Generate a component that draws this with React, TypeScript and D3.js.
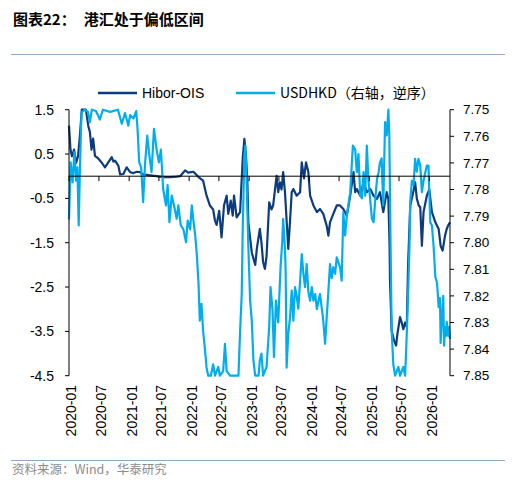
import React from "react";
import * as d3 from "d3";

// Hibor-OIS spread (left axis)
const hiborDates = [
  "2020-01-01","2020-01-10","2020-01-19","2020-02-01","2020-02-13","2020-02-25","2020-03-07","2020-03-19",
  "2020-04-13","2020-04-27","2020-05-07","2020-05-17","2020-05-27","2020-06-07","2020-06-27","2020-07-17",
  "2020-08-07","2020-08-27","2020-09-17","2020-09-27","2020-10-07","2020-10-27","2020-11-07","2020-11-27",
  "2020-12-17","2021-01-07","2021-01-27","2021-02-17","2021-03-07","2021-03-27","2021-05-07","2021-06-17",
  "2021-07-27","2021-09-07","2021-10-17","2021-11-07","2021-12-07","2021-12-27","2022-01-27","2022-02-27",
  "2022-03-27","2022-04-17","2022-05-07","2022-05-27","2022-06-07","2022-06-17","2022-07-03","2022-07-17",
  "2022-08-01","2022-08-17","2022-08-27","2022-09-11","2022-09-23","2022-10-01","2022-10-17","2022-11-07",
  "2022-11-23","2022-12-03","2022-12-13","2022-12-21","2022-12-27","2023-01-17","2023-02-07","2023-02-17",
  "2023-03-07","2023-03-17","2023-03-27","2023-04-07","2023-04-17","2023-05-03","2023-05-17","2023-05-27",
  "2023-06-17","2023-06-27","2023-07-07","2023-07-17","2023-07-27","2023-08-07","2023-08-17","2023-08-27",
  "2023-09-07","2023-09-17","2023-09-27","2023-10-17","2023-11-07","2023-11-17","2023-12-01","2023-12-13",
  "2023-12-27","2024-01-07","2024-01-27","2024-02-17","2024-03-07","2024-03-27","2024-04-17","2024-04-27",
  "2024-05-07","2024-05-27","2024-06-17","2024-07-07","2024-07-27","2024-08-17","2024-09-07","2024-09-27",
  "2024-10-07","2024-10-17","2024-11-07","2024-11-27","2024-12-17","2025-01-07","2025-01-27","2025-02-17",
  "2025-03-07","2025-03-27","2025-04-17","2025-04-27","2025-05-04","2025-05-07","2025-05-17","2025-06-01",
  "2025-06-13","2025-06-21","2025-07-07","2025-07-17","2025-07-27","2025-08-07","2025-08-17","2025-08-25",
  "2025-09-07","2025-09-23","2025-10-07","2025-10-17","2025-10-29","2025-11-07","2025-11-17","2025-11-27",
  "2025-12-17","2026-01-01","2026-01-17","2026-02-07","2026-02-27","2026-03-11","2026-03-23","2026-04-07",
  "2026-04-17","2026-04-27","2026-05-07",
];
const hiborValues = [
  1.14, 0.6, 0.45, 0.6, 0.3, 0.45, 0.9, 1.5,
  1.5, 1.14, 1.0, 0.6, 0.85, 0.46, 0.4, 0.31,
  0.2, 0.31, 0.43, 0.33, 0.35, 0.24, 0.04, 0.05,
  0.2, 0.09, 0.07, 0.1, 0.09, 0.04, 0.02, 0.0,
  -0.02, -0.02, -0.01, 0.0, 0.13, 0.08, 0.1, -0.02,
  -0.1, -0.44, -0.66, -0.75, -1.0, -1.1, -0.78, -1.38,
  -0.66, -0.44, -0.85, -0.55, -0.89, -0.44, -0.93, -0.81,
  0.4, 0.84, 0.45, -0.1, -1.04, -1.72, -2.0, -1.63,
  -1.19, -1.5, -1.94, -2.09, -1.8, -0.59, -0.75, -0.66,
  0.01, -0.36, -0.14, -0.3, 0.09, -0.36, -1.0, -1.64,
  -1.0, -0.36, -0.29, -0.44, -0.36, 0.31, -0.05, 0.31,
  0.1, -0.44, -0.66, -0.81, -0.74, -0.85, -1.12, -1.34,
  -1.04, -0.85, -0.66, -0.66, -0.74, -0.89, -0.44, 0.09,
  -0.36, -0.29, -0.44, -0.14, -0.36, -0.29, -0.44, -0.51,
  -0.36, -0.81, -0.36, -0.51, -1.5, -2.36, -3.49, -3.71,
  -3.82, -3.56, -3.18, -3.3, -3.45, -3.3, -3.4, -2.0,
  -0.66, -0.4, -0.14, -0.5, -0.66, -0.7, -1.57, -0.81,
  -0.44, -0.3, -0.81, -1.04, -1.19, -1.57, -1.68, -1.34,
  -1.19, -1.1, -1.04,
];

// USDHKD spot (right axis, reversed)
const hkdDates = [
  "2020-01-01","2020-01-11","2020-01-23","2020-02-03","2020-02-13","2020-02-21","2020-02-29","2020-03-07",
  "2020-03-17","2020-04-07","2020-04-25","2020-05-07","2020-05-19","2020-06-13","2020-07-07","2020-07-25",
  "2020-09-07","2020-10-25","2020-11-17","2020-12-07","2020-12-27","2021-01-07","2021-01-27","2021-02-13",
  "2021-02-21","2021-03-03","2021-03-15","2021-03-27","2021-04-07","2021-04-21","2021-05-03","2021-05-17",
  "2021-06-01","2021-06-17","2021-07-01","2021-07-13","2021-07-27","2021-08-13","2021-08-23","2021-09-03",
  "2021-09-17","2021-10-01","2021-10-17","2021-10-27","2021-11-11","2021-11-27","2021-12-13","2021-12-23",
  "2022-01-07","2022-01-17","2022-01-27","2022-02-07","2022-02-17","2022-02-27","2022-03-07","2022-03-17",
  "2022-03-27","2022-04-07","2022-04-17","2022-04-27","2022-05-13","2022-05-27","2022-06-07","2022-06-27",
  "2022-07-07","2022-07-27","2022-08-07","2022-08-17","2022-09-07","2022-10-28","2022-11-07","2022-11-17",
  "2022-11-23","2022-12-03","2022-12-09","2022-12-17","2022-12-27","2023-01-07","2023-01-17","2023-01-27",
  "2023-02-07","2023-02-27","2023-03-07","2023-03-17","2023-03-27","2023-04-17","2023-05-03","2023-05-11",
  "2023-05-23","2023-06-01","2023-06-13","2023-06-27","2023-07-11","2023-07-21","2023-07-27","2023-08-07",
  "2023-08-11","2023-08-17","2023-08-27","2023-09-07","2023-09-17","2023-09-27","2023-10-07","2023-10-17",
  "2023-10-27","2023-11-07","2023-11-17","2023-11-27","2023-12-07","2023-12-17","2023-12-27","2024-01-07",
  "2024-01-17","2024-01-27","2024-02-07","2024-02-17","2024-02-27","2024-03-07","2024-03-17","2024-03-27",
  "2024-04-07","2024-04-17","2024-04-27","2024-05-07","2024-05-17","2024-05-27","2024-06-07","2024-06-17",
  "2024-07-07","2024-07-17","2024-07-27","2024-08-07","2024-08-17","2024-09-07","2024-09-23","2024-10-07",
  "2024-10-17","2024-10-27","2024-11-07","2024-11-17","2024-11-27","2024-12-07","2024-12-17","2024-12-27",
  "2025-01-17","2025-01-27","2025-02-07","2025-02-17","2025-02-27","2025-03-07","2025-03-17","2025-03-27",
  "2025-04-07","2025-04-17","2025-04-27","2025-05-03","2025-05-07","2025-05-17","2025-05-27","2025-06-07",
  "2025-06-27","2025-07-07","2025-07-27","2025-08-07","2025-08-17","2025-08-27","2025-09-03","2025-09-07",
  "2025-09-17","2025-09-27","2025-10-07","2025-10-17","2025-10-27","2025-11-07","2025-11-17","2025-11-27",
  "2025-12-17","2025-12-27","2026-01-07","2026-01-17","2026-01-27","2026-02-07","2026-02-17","2026-02-27",
  "2026-03-07","2026-03-11","2026-03-19","2026-03-27","2026-04-01","2026-04-07","2026-04-13","2026-04-17",
  "2026-04-27","2026-05-01","2026-05-07",
];
const hkdValues = [
  7.7913, 7.7698, 7.7773, 7.7658, 7.7767, 7.7717, 7.7935, 7.7735,
  7.7510, 7.7500, 7.7508, 7.7547, 7.7500, 7.7505, 7.7537, 7.7500,
  7.7508, 7.7500, 7.7553, 7.7513, 7.7560, 7.7520, 7.7533, 7.7505,
  7.7572, 7.7698, 7.7717, 7.7848, 7.7710, 7.7597, 7.7667, 7.7735,
  7.7572, 7.7650, 7.7698, 7.7650, 7.7798, 7.7860, 7.7783, 7.7923,
  7.7823, 7.7860, 7.7910, 7.7860, 7.7935, 7.7950, 7.7998, 7.7917,
  7.7950, 7.7860, 7.7917, 7.7973, 7.8048, 7.8155, 7.8293, 7.8230,
  7.8332, 7.8400, 7.8470, 7.8500, 7.8500, 7.8457, 7.8500, 7.8467,
  7.8500, 7.8483, 7.8380, 7.8483, 7.8500, 7.8500, 7.8332, 7.8192,
  7.7947, 7.7673, 7.7635, 7.7783, 7.8012, 7.8217, 7.8293, 7.8442,
  7.8500, 7.8500, 7.8442, 7.8417, 7.8500, 7.8467, 7.8317, 7.8167,
  7.8250, 7.8430, 7.8218, 7.8300, 7.8092, 7.8000, 7.7910, 7.8023,
  7.8105, 7.8470, 7.8343, 7.8280, 7.8180, 7.8293, 7.8167, 7.8200,
  7.8248, 7.8143, 7.8043, 7.8117, 7.8167, 7.8080, 7.8183, 7.8218,
  7.8167, 7.8218, 7.8193, 7.8250, 7.8218, 7.8193, 7.8242, 7.8293,
  7.8380, 7.8280, 7.8183, 7.8080, 7.8133, 7.8092, 7.8117, 7.8055,
  7.8092, 7.8143, 7.7885, 7.7973, 7.7900, 7.7810, 7.7635, 7.7650,
  7.7735, 7.7667, 7.7823, 7.7833, 7.7735, 7.7823, 7.7635, 7.7767,
  7.7910, 7.7923, 7.7833, 7.7760, 7.7735, 7.7698, 7.7683, 7.7860,
  7.7547, 7.7597, 7.7500, 7.7600, 7.7833, 7.8332, 7.8457, 7.8500,
  7.8467, 7.8500, 7.8467, 7.8500, 7.8343, 7.8155, 7.8000, 7.7848,
  7.7767, 7.7783, 7.7685, 7.7733, 7.7685, 7.7710, 7.7810, 7.7767,
  7.7710, 7.7710, 7.7923, 7.7935, 7.8012, 7.8130, 7.8150, 7.8242,
  7.8208, 7.8377, 7.8283, 7.8200, 7.8387, 7.8317, 7.8350, 7.8298,
  7.8350, 7.8317, 7.8362,
];

const leftTicks = [1.5, 0.5, -0.5, -1.5, -2.5, -3.5, -4.5];
const rightTicks = [7.75, 7.76, 7.77, 7.78, 7.79, 7.8, 7.81, 7.82, 7.83, 7.84, 7.85];
const xTickLabels = [
  "2020-01","2020-07","2021-01","2021-07","2022-01","2022-07","2023-01",
  "2023-07","2024-01","2024-07","2025-01","2025-07","2026-01",
];

const seriesNames = ["Hibor-OIS", "USDHKD（右轴，逆序）"];
const titleText = ["图表22：", "港汇处于偏低区间"];
const sourceText = "资料来源：Wind，华泰研究";

const DARK = "#0c3c7e";
const LIGHT = "#00aeef";
const RULE = "#8eaac2";
const LATIN = "'Liberation Sans', Arial, sans-serif";
const CJK = "'Noto Sans CJK SC', 'Liberation Sans', sans-serif";

export default function App() {
  const W = 525;
  const H = 498;
  const plot = { left: 69, right: 450, top: 109.7, bottom: 375.7 };

  const parse = d3.timeParse("%Y-%m-%d");
  const x = d3
    .scaleTime()
    .domain([parse("2020-01-01")!, parse("2026-05-07")!])
    .range([plot.left, plot.right]);
  const yL = d3.scaleLinear().domain([-4.5, 1.5]).range([plot.bottom, plot.top]);
  const yR = d3.scaleLinear().domain([7.75, 7.85]).range([plot.top, plot.bottom]);

  const hibor = hiborDates.map((d, i) => ({ d: parse(d)!, v: hiborValues[i] }));
  const hkd = hkdDates.map((d, i) => ({ d: parse(d)!, v: hkdValues[i] }));

  const lineL = d3
    .line<{ d: Date; v: number }>()
    .x((p) => x(p.d))
    .y((p) => yL(p.v));
  const lineR = d3
    .line<{ d: Date; v: number }>()
    .x((p) => x(p.d))
    .y((p) => yR(p.v));

  const xTicks = xTickLabels.map((s) => ({ s, d: parse(s + "-01")! }));
  const zeroY = yL(0);

  return (
    <svg
      width={W}
      height={H}
      style={{ position: "absolute", left: 0, top: 0, background: "#fff" }}
    >
      {/* title */}
      <text x={13} y={25} fontFamily={CJK} fontWeight="bold" fontSize={15} fill="#000">
        <tspan>{titleText[0]}</tspan>
        <tspan dx={8}>{titleText[1]}</tspan>
      </text>
      <line x1={11} x2={505} y1={54.5} y2={54.5} stroke={RULE} strokeWidth={1.2} />

      {/* legend */}
      <line x1={98} x2={137} y1={93} y2={93} stroke={DARK} strokeWidth={2.5} />
      <text x={142} y={98} fontFamily={LATIN} fontSize={14} fill="#000">
        {seriesNames[0]}
      </text>
      <line x1={236} x2={275} y1={93} y2={93} stroke={LIGHT} strokeWidth={2.5} />
      <text x={280} y={98} fontFamily={CJK} fontSize={14} fill="#000">
        {seriesNames[1]}
      </text>

      {/* series */}
      <path d={lineL(hibor) ?? ""} fill="none" stroke={DARK} strokeWidth={2.2} strokeLinejoin="round" />
      <path d={lineR(hkd) ?? ""} fill="none" stroke={LIGHT} strokeWidth={2.2} strokeLinejoin="round" />

      {/* zero line with half-year ticks */}
      <line x1={plot.left} x2={plot.right} y1={zeroY} y2={zeroY} stroke="#000" strokeWidth={1} />
      {xTicks.map((t) => (
        <line
          key={"xt" + t.s}
          x1={x(t.d)}
          x2={x(t.d)}
          y1={zeroY}
          y2={zeroY + 5}
          stroke="#000"
          strokeWidth={1}
        />
      ))}
      {xTicks.map((t) => (
        <text
          key={"xl" + t.s}
          transform={`translate(${x(t.d) + 2.5},385) rotate(-90)`}
          textAnchor="end"
          dy="0.35em"
          fontFamily={LATIN}
          fontSize={14}
          fill="#000"
        >
          {t.s}
        </text>
      ))}

      {/* left axis */}
      <line x1={plot.left} x2={plot.left} y1={plot.top} y2={plot.bottom} stroke="#000" strokeWidth={1} />
      {leftTicks.map((t) => (
        <g key={"lt" + t}>
          <line x1={plot.left - 4} x2={plot.left} y1={yL(t)} y2={yL(t)} stroke="#000" />
          <text
            x={54}
            y={yL(t)}
            dy="0.35em"
            textAnchor="end"
            fontFamily={LATIN}
            fontSize={14}
            fill="#000"
          >
            {t.toFixed(1)}
          </text>
        </g>
      ))}

      {/* right axis */}
      <line x1={plot.right} x2={plot.right} y1={plot.top} y2={plot.bottom} stroke="#000" strokeWidth={1} />
      {rightTicks.map((t) => (
        <g key={"rt" + t}>
          <line x1={plot.right} x2={plot.right + 4} y1={yR(t)} y2={yR(t)} stroke="#000" />
          <text
            x={463}
            y={yR(t)}
            dy="0.35em"
            fontFamily={LATIN}
            fontSize={13.5}
            fill="#000"
          >
            {t.toFixed(2)}
          </text>
        </g>
      ))}

      {/* footer */}
      <line x1={11} x2={505} y1={460.5} y2={460.5} stroke={RULE} strokeWidth={1.2} />
      <text x={12} y={474} fontFamily={CJK} fontSize={12.5} fill="#8c8c8c">
        {sourceText}
      </text>
    </svg>
  );
}
